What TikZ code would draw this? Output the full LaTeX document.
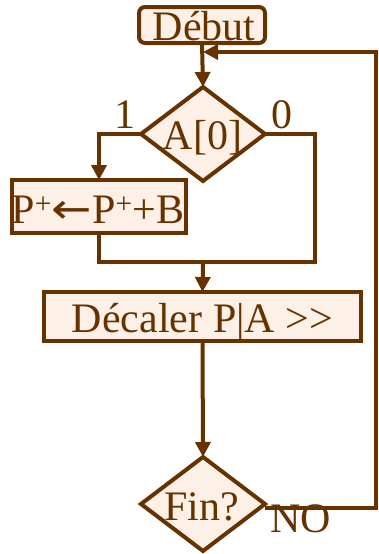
\documentclass[tikz,border=0pt]{standalone}
\usepackage{graphicx}
\usepackage{fontspec}
\setmainfont{Liberation Serif}
\newfontfamily\arrowfont{DejaVu Sans}
\usetikzlibrary{arrows.meta,shapes.geometric}
\definecolor{brn}{RGB}{102,51,0}
\definecolor{bgc}{RGB}{253,240,230}
\tikzset{
  base/.style={draw=brn, fill=bgc, line width=4pt, inner sep=0pt, outer sep=0pt},
  rbox/.style={base, rectangle, rounded corners=6pt},
  sbox/.style={base, rectangle},
  dia/.style={base, diamond, minimum width=124pt, minimum height=94pt},
  txt/.style={text=brn, font=\fontsize{42}{42}\selectfont, inner sep=0pt, anchor=base},
  conn/.style={draw=brn, line width=4pt},
  arr/.style={conn, -{Triangle[length=15pt,width=15pt]}},
}
\begin{document}
\begin{tikzpicture}[x=1pt,y=-1pt]
\useasboundingbox (0,0) rectangle (379,554);
\node[rbox, minimum width=126pt, minimum height=36pt] (debut) at (202,25) {};
\node[txt] (tdebut) at (204,40) {Début};
\node[dia] (d1) at (203,134) {};
\node[txt] (ta) at (202.5,149) {A[0]};
\node[sbox, minimum width=174pt, minimum height=53pt] (p) at (99,206.5) {};
\node[txt] (tp) at (98,223) {P\textsuperscript{+}\scalebox{1.15}[1]{\arrowfont ←}P\textsuperscript{+}+B};
\node[sbox, minimum width=317pt, minimum height=49pt] (dec) at (202.5,316.5) {};
\node[txt] (tdec) at (202.5,332) {Décaler P|A >{}>};
\node[dia] (fin) at (203,504) {};
\node[txt] (tfin) at (201.5,520) {Fin?};
\node[txt] (l1) at (125,128) {1};
\node[txt] (l0) at (281.5,128) {0};
\node[txt] (lno) at (300.5,532) {NO};
\coordinate (j1) at (203,52);
\coordinate (rt) at (376,52);
\coordinate (c0) at (315,262);
\coordinate (j2) at (203,262);
\draw[arr] (debut.south) -- (d1.north);
\draw[arr] (d1.west) -| (p.north);
\draw[conn] (d1.east) -| (c0) -- (j2);
\draw[conn] (p.south) |- (j2);
\draw[arr] (j2) -- (dec.north);
\draw[arr] (dec.south) -- (fin.north);
\draw[arr] ([yshift=-4pt]fin.east) -| (rt) -- (j1);
\end{tikzpicture}
\end{document}
